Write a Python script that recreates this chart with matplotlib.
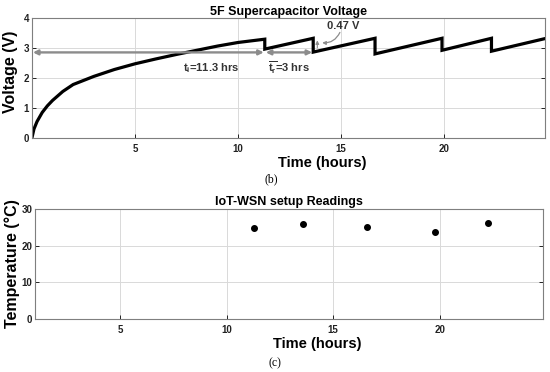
import matplotlib
matplotlib.use("Agg")
import matplotlib.pyplot as plt

plt.rcParams['font.family'] = ['Liberation Sans', 'DejaVu Sans']
plt.rcParams['mathtext.fontset'] = 'custom'
plt.rcParams['mathtext.rm'] = 'Liberation Sans'
plt.rcParams['mathtext.bf'] = 'Liberation Sans:bold'

# supercapacitor voltage (hours, volts)
t_volt = [0, 0.1, 0.25, 0.5, 0.75, 1.0, 1.5, 2.0, 3.0, 4.0, 5.0, 6.0, 7.0, 8.0,
          9.0, 10.0, 11.3, 11.3, 13.65, 13.65, 16.65, 16.65, 19.9, 19.9,
          22.3, 22.3, 24.9]
volt = [0, 0.3, 0.55, 0.85, 1.07, 1.25, 1.55, 1.78, 2.05, 2.28, 2.47, 2.63,
        2.78, 2.92, 3.06, 3.18, 3.29, 2.96, 3.32, 2.86, 3.32, 2.8, 3.32, 2.92,
        3.32, 2.89, 3.31]

# temperature readings (hours, deg C)
t_temp = [11.3, 13.57, 16.6, 19.8, 22.26]
temp = [24.9, 25.9, 25.0, 23.8, 26.1]

v_ticks = [0, 1, 2, 3, 4]
temp_ticks = [0, 10, 20, 30]
time_ticks = [5, 10, 15, 20]

grey = '#8c8c8c'

fig = plt.figure(figsize=(5.5, 3.72), dpi=100)
ax1 = fig.add_axes([0.058, 0.629, 0.933, 0.323])
ax2 = fig.add_axes([0.0636, 0.1425, 0.9234, 0.2955])

for ax in (ax1, ax2):
    ax.grid(True, color='#d9d9d9', lw=0.7)
    ax.set_axisbelow(True)
    for s in ax.spines.values():
        s.set_color('#7f7f7f')
        s.set_linewidth(0.8)
    ax.tick_params(direction='in', length=3, width=0.7, colors='#222222',
                   labelsize=7, right=True, top=False)
    ax.tick_params(axis='x', pad=4)
    ax.tick_params(axis='y', pad=2)

# --- top panel ---
ax1.plot(t_volt, volt, color='black', lw=2.3, solid_joinstyle='miter')
ax1.set_xlim(0, 24.9)
ax1.set_ylim(0, 4)
ax1.set_xticks(time_ticks)
ax1.set_yticks(v_ticks)
ax1.set_xticklabels([str(v) for v in time_ticks], fontweight='bold')
ax1.set_yticklabels([str(v) for v in v_ticks], fontweight='bold')
ax1.set_title('5F Supercapacitor Voltage', fontsize=9, fontweight='bold', pad=2)
ax1.set_ylabel('Voltage (V)', fontsize=11.5, fontweight='bold')
ax1.yaxis.set_label_coords(-0.027, 0.55)
ax1.set_xlabel('Time (hours)', fontsize=10.5, fontweight='bold')
ax1.xaxis.set_label_coords(0.565, -0.15)

ax1.annotate('', xy=(0.05, 2.85), xytext=(11.25, 2.85),
             arrowprops=dict(arrowstyle='<|-|>', color=grey, lw=1.7,
                             mutation_scale=7, shrinkA=0, shrinkB=0))
ax1.annotate('', xy=(11.35, 2.85), xytext=(13.6, 2.85),
             arrowprops=dict(arrowstyle='<|-|>', color=grey, lw=1.7,
                             mutation_scale=7, shrinkA=0, shrinkB=0))
ax1.text(8.7, 2.33, r'$\mathbf{t_i}$=11.3 hrs', fontsize=8, fontweight='bold',
         ha='center', va='center', color='#333333')
ax1.text(11.45, 2.33, r'$\mathbf{\overline{t_r}}$=3 hrs', fontsize=8,
         fontweight='bold', ha='left', va='center', color='#333333')
ax1.annotate('', xy=(13.85, 3.0), xytext=(13.85, 3.25),
             arrowprops=dict(arrowstyle='<|-', color=grey, lw=0.8,
                             mutation_scale=5, shrinkA=0, shrinkB=0))
ax1.annotate('', xy=(13.95, 3.18), xytext=(15.0, 3.6),
             arrowprops=dict(arrowstyle='-|>', color=grey, lw=0.9,
                             mutation_scale=5, connectionstyle='arc3,rad=-0.4'))
ax1.text(15.1, 3.72, '0.47 V', fontsize=8, fontweight='bold',
         ha='center', va='center', color='#333333')

# --- bottom panel ---
ax2.scatter(t_temp, temp, s=16, color='black', zorder=3)
ax2.set_xlim(1, 24.85)
ax2.set_ylim(0, 30)
ax2.set_xticks(time_ticks)
ax2.set_yticks(temp_ticks)
ax2.set_xticklabels([str(v) for v in time_ticks], fontweight='bold')
ax2.set_yticklabels([str(v) for v in temp_ticks], fontweight='bold')
ax2.set_title('IoT-WSN setup Readings', fontsize=9, fontweight='bold', pad=3)
ax2.set_ylabel('Temperature (°C)', fontsize=11.5, fontweight='bold', labelpad=1)
ax2.set_xlabel('Time (hours)', fontsize=10.5, fontweight='bold')
ax2.xaxis.set_label_coords(0.555, -0.16)

fig.text(0.493, 1 - 179 / 372, '(b)', family=['Liberation Serif', 'DejaVu Serif'],
         fontsize=8.5, ha='center', va='center')
fig.text(0.5, 1 - 363 / 372, '(c)', family=['Liberation Serif', 'DejaVu Serif'],
         fontsize=8.5, ha='center', va='center')

fig.savefig('out.png', dpi=100)
